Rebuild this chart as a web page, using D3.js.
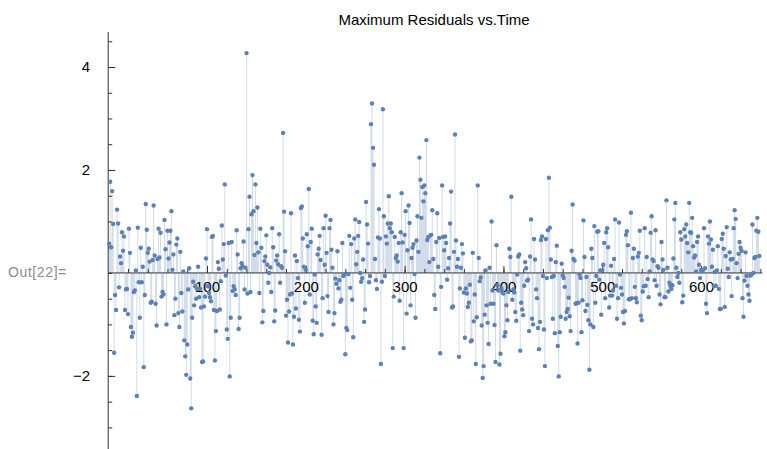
<!DOCTYPE html>
<html>
<head>
<meta charset="utf-8">
<script src="https://cdn.jsdelivr.net/npm/d3@7"></script>
<style>
  body { margin: 0; background: #fff; }
  text { font-family: "Liberation Sans", Arial, sans-serif; }
</style>
</head>
<body>
<div id="chart"></div>
<script>
// max residual per time step (x = 1, 2, 3, ...)
const maxResiduals = [
  0.57, 1.77, 0.5, 1.59, 0.95, -1.55, -0.43, -0.72, 1.23, 0.96,
  -0.28, 0.32, 0.19, 0.79, 0.43, 0.71, -0.72, -0.32, -0.31, -0.8,
  0.86, 0.39, -1.05, -1.24, -1.16, -0.37, -0.34, 0.05, -2.39, 0.88,
  -0.18, -0.87, 0.49, -0.18, 0.12, -1.83, -0.43, 1.34, 0.84, 0.39,
  0.47, 0.22, -0.58, -0.56, 0.25, 1.31, 0.34, -0.6, -1.02, 0.27,
  0.86, 0.3, 0.78, -0.46, -0.37,
  -0.42, 1.03, 0.46, -1.0, 0.82, 0.28, 0.59, 0.82, 1.2, 0.06,
  0.36, -0.82, -0.5, 0.55, 0.67, -0.78, -1.05, 0.41, -0.39, -0.75,
  0.03, -1.31, -1.62, -1.98, -1.39, -0.32, 0.09, -2.05, -2.63, -0.87,
  -0.17, -0.63, -0.26, -0.5, -0.31, 0.12, -0.47, -0.31, -0.67, -1.73,
  -1.72, -0.65, -0.46, 0.28, 0.85, -0.26, -0.39, -0.47, -0.55, 0.7,
  0.72, -0.72, -1.7, -1.13, -0.74, 0.21,
  0.08, -0.71, -0.16, 0.92, 0.26, 0.56, 1.72, -0.05, -1.1, -1.28,
  0.58, -2.01, -0.87, 0.6, -0.35, -0.26, -0.32, -0.43, 0.83, 0.36,
  -1.09, -0.87, 0.09, 0.19, 0.13, 0.61, -0.32, 0.1, 4.27, -0.4,
  0.85, 1.48, -0.37, 1.14, 1.9, 1.2, 0.35, 1.72, 0.58, 1.27,
  0.4, -0.39, 0.86, 0.49, -0.96, -0.74, 0.23, 0.32, 0.73, 0.16,
  -0.19, 0.0, 0.11, -0.37, 0.87, 0.5,
  -0.94, -0.73, 0.24, 0.34, 0.17, 0.75, -0.19, 0.13, 0.1, 2.72,
  1.19, 0.42, -0.83, -0.52, -1.35, -0.75, -0.42, 1.16, -0.4, -1.39,
  -0.85, 0.34, -0.69, 0.23, -0.1, -0.91, -1.14, 1.26, 1.29, 0.67,
  0.12, -0.58, 0.06, 0.75, 0.52, 1.63, -0.42, 0.6, 0.86, -0.93,
  -1.19, -0.03, -0.65, -0.97, 0.36, 0.47, 0.72, 0.25, -1.2, -0.49,
  0.87, 0.16, 1.11, 0.39, -0.45, -0.76,
  0.87, 1.03, 0.45, 0.1, -1.0, -0.78, -0.11, -0.21, 0.42, -0.3,
  -0.14, -0.56, -0.52, 0.58, -0.06, -0.03, -1.58, -1.07, -1.11, -0.02,
  0.72, -0.29, 0.56, -0.52, -1.25, 0.67, 1.04, 0.17, 0.41, 0.72,
  0.99, 0, -0.17, -0.1, 0.26, -0.95, -0.71, 1.38, 0.94, 0.57,
  -0.18, -0.06, 2.89, 3.29, 2.43, 2.1, 0.27, -0.14, -0.31, 0.69,
  1.24, 0.67, -1.77, -0.17, 3.18, 1.1,
  -0.06, 0.71, 0.57, 0.96, 1.49, 0.87, 0.96, 0.79, -1.46, -0.46,
  0.7, 0.29, 0.34, 0.22, 0.58, -0.54, 0.79, 1.55, 0.59, -1.46,
  0.74, 1.2, -0.79, 0.44, 1.31, 0.97, -0.63, 0.29, 0.49, 0.56,
  -0.02, -0.87, 0.63, 1.1, 0.41, 2.24, 1.81, 1.07, 1.67, 1.39,
  1.7, 1.55, 2.58, 0.64, 0.7, 0.21, 0.73, 0.74, 1.22, 0.27,
  -0.43, -0.7, 0.6, 1.16,
  0.12, 0.68, -1.56, -0.27, 1.7, 0.7, 0.44, 0.71, 0.58, -0.13,
  0.09, 0.29, 0.96, 1.58, -0.67, -0.65, 0.41, 2.69, 0.63, 0.12,
  0.27, -1.63, -0.3, 0.1, 0.56, 0.38, -0.38, -1.26, -0.3, -0.4,
  -0.66, -0.58, -0.23, -1.33, -1.31, 0.39, -0.94, -0.42, -1.77, -0.86,
  1.7, 0.29, -0.16, -0.09, -1.02, -2.04, -1.81, -0.81, 0.05, -0.63,
  -0.97, -1.38, 0.1, -0.6, 1.0, -0.34,
  -0.6, -1.01, -1.73, 0.54, -0.24, -0.34, -1.78, -1.57, -0.3, -0.38,
  -0.4, -1.23, -1.15, -0.63, -0.92, -0.37, 0.47, 0.31, 1.48, -0.52,
  -0.32, -0.38, -0.76, -0.93, -0.03, 0.32, 0.36, -1.51, -0.58, -0.71,
  -0.82, -0.25, 0.21, 0.09, -0.15, -0.13, -1.13, 0.32, 1.04, -0.89,
  -1.0, 0.66, 0.26, -0.32, -0.49, -1.07, -1.48, -0.95, 0.64, 0.71,
  -0.06, -1.1, -1.81, 0.66,
  -0.1, 0.83, 1.85, 0.88, 0.26, -0.08, -0.89, -0.06, -1.17, 0.21,
  0.53, -1.42, -2.01, -1.15, -0.85, 0.18, -0.05, -0.1, -0.27, -0.89,
  -0.76, -0.7, -0.48, -0.84, -1.13, 0.43, 1.33, 0.27, 0.24, -0.6,
  -0.59, -1.37, -0.58, -0.03, -0.1, -1.15, -0.53, 1.02, 0.31, -0.74,
  -0.08, -0.62, -0.92, -1.88, -1.0, 0.47, 0.29, -1.05, 0.91, -0.58,
  -0.06, 0.8, 0.81, -0.13, 0.05, -0.81,
  0.05, 0.16, 0.58, -0.49, 0.79, 0.87, 0.5, -0.67, -0.44, 0.14,
  -0.44, -0.34, 0.27, 1.04, -0.25, -0.89, -0.49, 0.98, -0.03, -0.29,
  -0.42, -0.76, -0.98, -0.74, 0.74, 0.81, 0.54, -0.51, -0.51, 1.17,
  -0.49, 0.29, 0.47, -0.27, -0.49, -0.57, 0.32, 0.39, 0.82, -0.83,
  -0.92, -0.36, -0.26, 0.87, -0.25, 0.31, -0.12, -0.47, 0.03, 0.78,
  1.1, 0.26, 0.23, -0.14, 0.83, -0.25, 0.13,
  0.1, -0.42, -0.61, 0.6, 0.26, 0.06, -0.47, -0.47, 1.41, 0.1,
  -0.36, -0.19, -0.25, -0.31, -0.24, 0.28, 1.04, 1.36, 0.1, -0.08,
  0, -0.19, 0.79, 0.65, -0.57, -0.44, 0.85, 0.71, 0.94, 0.58,
  0.4, 1.36, 0.79, 0.78, 1.07, 0.52, 0.3, 0.34, 0.03, 0.6,
  0.71, 0.16, -0.1, 0.06, 0.03, 0.06, 0.87, 0.09, -0.6, -0.78,
  0.71, 0.57, 1.0, 0.65,
  0.12, 0.45, -0.26, 0.02, -0.25, 0.05, 0.52, -0.31, -0.7, -0.7,
  0.66, 0.76, 0.47, -0.66, 0.33, 0.89, 0.08, -0.08, 0.4, 0.26,
  -0.45, 0.27, 0.87, 1.22, 1.05, 0.19, -0.1, 0.37, 0.6, 0.49,
  0.43, -0.49, -0.85, -0.15, 0.4, -0.06, -0.25, -0.42, -0.54, -0.05,
  -0.03, 0.94, 0, 0.29, 0.31, 0.82, 1.07, 0.8, 0.33
]

const xMajorTicks = [100, 200, 300, 400, 500, 600]
const yMajorTicks = [-2, 2, 4]
const yMinorTicks = d3.range(-3, 4.51, 0.5)
const xMinorTicks = d3.range(20, 661, 20)

const title = 'Maximum Residuals vs.Time'
const outLabel = 'Out[22]='

const width = 767
const height = 449
const pointColor = '#5e81b5'

const svg = d3.select('#chart')
              .append('svg')
              .attr('width', width)
              .attr('height', height)

const x = d3.scaleLinear().domain([0, 662]).range([108.2, 762.3])
const y = d3.scaleLinear().domain([-3.42, 4.68]).range([449, 32])

const data = maxResiduals.map((v, i) => ({ t: i + 1, v }))

// filling to axis
svg.append('g')
    .selectAll('line')
    .data(data)
    .enter()
    .append('line')
    .attr('x1', d => x(d.t))
    .attr('x2', d => x(d.t))
    .attr('y1', y(0))
    .attr('y2', d => y(d.v))
    .attr('stroke', pointColor)
    .attr('stroke-opacity', 0.28)
    .attr('stroke-width', 1)

// axes
const axisColor = '#333'
const styleAxis = g => {
    g.select('.domain').remove()
    g.selectAll('line').attr('stroke', axisColor)
    g.selectAll('text').attr('fill', '#000').style('font-size', '15px')
        .style('font-family', '"Liberation Sans", Arial, sans-serif')
}

svg.append('g')
    .attr('transform', `translate(0,${y(0)})`)
    .call(d3.axisBottom(x).tickValues(xMinorTicks).tickSize(-4).tickFormat(''))
    .call(styleAxis)

svg.append('g')
    .attr('transform', `translate(0,${y(0)})`)
    .call(d3.axisBottom(x).tickValues(xMajorTicks).tickSize(-7).tickPadding(8))
    .call(styleAxis)

svg.append('g')
    .attr('transform', `translate(${x(0)},0)`)
    .call(d3.axisLeft(y).tickValues(yMinorTicks).tickSize(-4).tickFormat(''))
    .call(styleAxis)

svg.append('g')
    .attr('transform', `translate(${x(0)},0)`)
    .call(d3.axisLeft(y).tickValues(yMajorTicks).tickSize(-7).tickPadding(18))
    .call(styleAxis)

svg.append('line')
    .attr('x1', x(0)).attr('x2', x(662))
    .attr('y1', y(0)).attr('y2', y(0))
    .attr('stroke', axisColor)

svg.append('line')
    .attr('x1', x(0)).attr('x2', x(0))
    .attr('y1', y(4.68)).attr('y2', y(-3.42))
    .attr('stroke', axisColor)

// points
svg.append('g')
    .selectAll('circle')
    .data(data)
    .enter()
    .append('circle')
    .attr('cx', d => x(d.t))
    .attr('cy', d => y(d.v))
    .attr('r', 2.2)
    .attr('fill', pointColor)

svg.append('text')
    .attr('x', 434)
    .attr('y', 25)
    .attr('text-anchor', 'middle')
    .style('font-size', '15px')
    .text(title)

svg.append('text')
    .attr('x', 8)
    .attr('y', 277)
    .attr('fill', '#8c8c8c')
    .style('font-size', '14px')
    .style('letter-spacing', '0.6px')
    .text(outLabel)
</script>
</body>
</html>
